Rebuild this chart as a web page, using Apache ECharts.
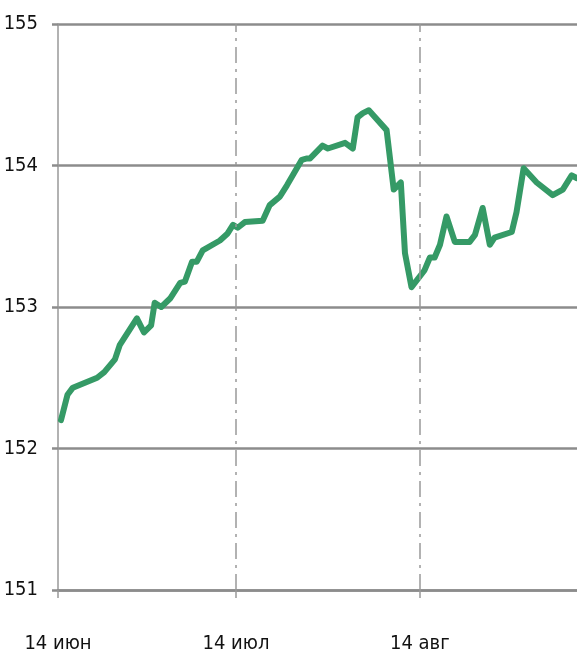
<!DOCTYPE html>
<html>
<head>
    <meta charset="UTF-8">
    <title>chart</title>
    <style>
        html, body {
            margin: 0;
            padding: 0;
            background: #fff;
        }

        #chart {
            width: 577px;
            height: 658px;
        }
    </style>
</head>
<body>
<div id="chart"></div>
<script src="https://cdn.jsdelivr.net/npm/echarts@6/dist/echarts.min.js"></script>
<script>
    // days counted from 14 June
    var days = [0.5, 1.6, 2.5, 6.6, 7.8, 9.6, 10.4, 13.3, 14.5, 15.7, 16.3, 17.4, 18.9, 20.6, 21.4,
        22.6, 23.4, 24.4, 27.3, 28.6, 29.5, 30.3, 31.5, 34.5, 35.7, 37.4, 38.6, 41.1, 42.0, 42.5,
        44.6, 45.5, 48.4, 49.7, 50.5, 51.4, 52.4, 55.4, 56.6, 57.8, 58.5, 59.6, 61.8, 62.7, 63.5,
        64.4, 65.5, 66.9, 69.4, 70.3, 71.6, 72.8, 73.6, 76.5, 77.3, 78.5, 80.7, 83.4, 85.1, 86.6, 87.5];
    var prices = [152.20, 152.38, 152.43, 152.50, 152.54, 152.63, 152.73, 152.92, 152.82, 152.87, 153.03, 153.00, 153.06, 153.17, 153.18,
        153.32, 153.32, 153.40, 153.47, 153.52, 153.58, 153.56, 153.60, 153.61, 153.72, 153.78, 153.86, 154.04, 154.05, 154.05,
        154.14, 154.12, 154.16, 154.12, 154.34, 154.37, 154.39, 154.25, 153.83, 153.88, 153.38, 153.14, 153.26, 153.35, 153.35,
        153.44, 153.64, 153.46, 153.46, 153.51, 153.70, 153.44, 153.49, 153.53, 153.67, 153.98, 153.88, 153.79, 153.83, 153.93, 153.91];
    var tickDays = [0, 30, 61];
    var tickLabels = ['14 июн', '14 июл', '14 авг'];

    var points = [];
    for (var i = 0; i < days.length; i++) {
        points.push([days[i], prices[i]]);
    }

    var font = "'DejaVu Sans Condensed', 'Liberation Sans', sans-serif";
    var chart = echarts.init(document.getElementById('chart'));
    chart.setOption({
        animation: false,
        grid: {left: 58, right: 0, top: 24, bottom: 68, containLabel: false, outerBoundsMode: 'none'},
        xAxis: {
            type: 'value',
            min: 0,
            max: 87.5,
            axisLine: {show: true, onZero: false, lineStyle: {color: '#8c8c8c', width: 2.5}},
            axisTick: {show: true, customValues: tickDays, length: 8, lineStyle: {color: '#999', width: 1.5}},
            axisLabel: {
                customValues: tickDays,
                margin: 44,
                color: '#111',
                fontSize: 20,
                fontFamily: font,
                formatter: function (v) {
                    var k = tickDays.indexOf(Math.round(v));
                    return k >= 0 ? tickLabels[k] : '';
                }
            },
            splitLine: {show: false}
        },
        yAxis: {
            type: 'value',
            min: 151,
            max: 155,
            interval: 1,
            axisLine: {show: true, lineStyle: {color: '#999', width: 1.5}},
            axisTick: {show: true, length: 6, lineStyle: {color: '#8c8c8c', width: 2.5}},
            axisLabel: {margin: 20, color: '#111', fontSize: 20, fontFamily: font},
            splitLine: {show: true, lineStyle: {color: '#8c8c8c', width: 2.5}}
        },
        series: [
            {
                type: 'line',
                data: [],
                z: 1,
                markLine: {
                    silent: true,
                    symbol: 'none',
                    label: {show: false},
                    lineStyle: {color: '#999', width: 1.5, type: [16, 6, 3, 6]},
                    data: [{xAxis: tickDays[1]}, {xAxis: tickDays[2]}]
                }
            },
            {
                type: 'line',
                data: points,
                z: 3,
                symbol: 'none',
                lineStyle: {color: '#359a66', width: 6, join: 'round', cap: 'round'},
                itemStyle: {color: '#359a66'}
            }
        ]
    });
</script>
</body>
</html>
